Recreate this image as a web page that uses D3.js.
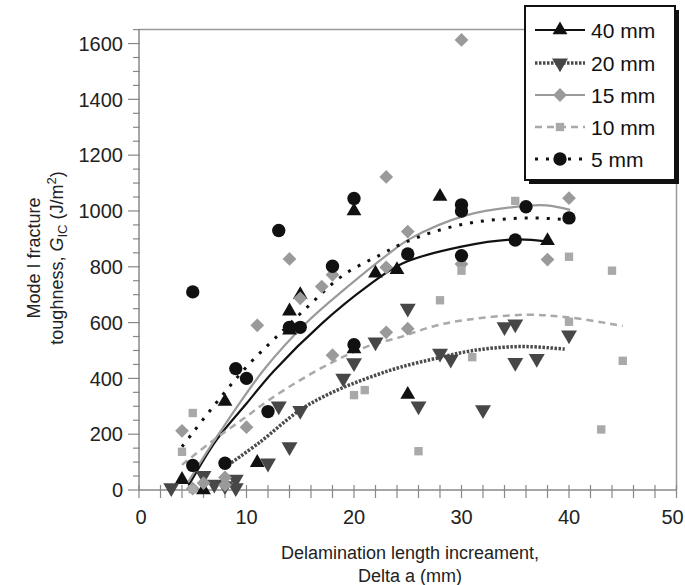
<!DOCTYPE html>
<html>
<head>
<meta charset="utf-8">
<script src="https://cdn.jsdelivr.net/npm/d3@7"></script>
<style>
  body { margin: 0; background: #fff; }
  svg { font-family: "Liberation Sans", Arial, sans-serif; }
</style>
</head>
<body>
<div id="vis"></div>
<script>
// size of the frame
const FRAME_WIDTH = 685;
const FRAME_HEIGHT = 585;

// margins round the plot area
const MARGINS = {left: 139, right: 8.5, top: 29.6, bottom: 95};

const VIS_WIDTH = FRAME_WIDTH - MARGINS.left - MARGINS.right;
const VIS_HEIGHT = FRAME_HEIGHT - MARGINS.top - MARGINS.bottom;

// series names (legend order)
const SERIES_NAMES = ["40 mm", "20 mm", "15 mm", "10 mm", "5 mm"];

// measured points [delta a (mm), G_IC (J/m2)]
const PTS_40 = [[4, 37], [6, 0], [8, 317], [11, 98], [14, 573], [14, 641], [15, 700],
  [20, 1000], [20, 505], [22, 777], [24, 789], [25, 342], [28, 1052], [38, 893]];

const PTS_20 = [[3, 8], [6, 52], [7, 20], [8, 15], [9, 38], [9, 8], [12, 96], [13, 301],
  [14, 155], [15, 285], [19, 400], [20, 456], [22, 530], [25, 651], [26, 301], [28, 490],
  [29, 468], [32, 287], [34, 585], [35, 595], [35, 457], [37, 471], [40, 555]];

const PTS_15 = [[4, 212], [5, 5], [6, 25], [8, 45], [8, 18], [10, 225], [11, 590], [14, 828],
  [15, 687], [17, 729], [18, 771], [18, 483], [23, 1122], [23, 798], [23, 565], [25, 926],
  [25, 578], [30, 1613], [30, 810], [38, 826], [40, 1046]];

const PTS_10 = [[4, 137], [5, 3], [5, 276], [20, 340], [21, 358], [26, 139], [28, 680],
  [30, 786], [31, 476], [35, 1036], [40, 836], [40, 603], [43, 217], [44, 786], [45, 463]];

const PTS_5 = [[5, 88], [8, 96], [5, 710], [9, 435], [10, 400], [12, 281], [13, 930],
  [14, 583], [15, 583], [18, 802], [20, 1045], [20, 521], [25, 846], [30, 1022], [30, 1000],
  [30, 840], [35, 896], [36, 1015], [40, 975]];

// trend curves
const FIT_40 = [[4.6, 15], [7.2, 179], [10, 310], [12.5, 425], [17.1, 600], [21.2, 729],
  [24.5, 812], [30, 872], [35, 898], [38, 890]];
const FIT_20 = [[8.3, 90], [11.2, 170], [15, 287], [18.1, 352], [21.2, 400], [24.3, 440],
  [28, 475], [30.5, 496], [33, 509], [36, 514], [39.6, 505]];
const FIT_15 = [[4.6, 30], [7.4, 200], [11.6, 430], [15.6, 600], [19.3, 725], [23, 840],
  [25.2, 900], [30.5, 985], [35, 1015], [37.9, 1020], [40.1, 1004]];
const FIT_10 = [[4, 90], [6.8, 175], [9.7, 255], [12, 320], [15, 394], [18.1, 460],
  [21.2, 514], [24.3, 548], [27.5, 588], [30.5, 610], [36, 628], [40.1, 618], [45, 588]];
const FIT_5 = [[4, 155], [5, 205], [6.6, 284], [8.4, 370], [10.3, 454], [12.5, 538],
  [15.7, 657], [19, 770], [22.4, 842], [24.6, 885], [27.4, 925], [30.5, 955], [33.6, 970],
  [36.7, 975], [40, 968]];

// axis ticks
const X_TICKS = [0, 10, 20, 30, 40, 50];
const Y_TICKS = [0, 200, 400, 600, 800, 1000, 1200, 1400, 1600];

// styles for each series
const STYLES = [
  {pts: PTS_40, fit: FIT_40, sym: d3.symbolTriangle, rot: 0, size: 95, fill: "#111",
   stroke: "#111", width: 2.2, dash: null},
  {pts: PTS_20, fit: FIT_20, sym: d3.symbolTriangle, rot: 180, size: 110, fill: "#474747",
   stroke: "#4a4a4a", width: 3.5, dash: "2.5,1.5"},
  {pts: PTS_15, fit: FIT_15, sym: d3.symbolSquare, rot: 45, size: 95, fill: "#9a9a9a",
   stroke: "#9a9a9a", width: 2.2, dash: null},
  {pts: PTS_10, fit: FIT_10, sym: d3.symbolSquare, rot: 0, size: 70, fill: "#a9a9a9",
   stroke: "#a9a9a9", width: 2.5, dash: "7,5"},
  {pts: PTS_5, fit: FIT_5, sym: d3.symbolCircle, rot: 0, size: 140, fill: "#111",
   stroke: "#111", width: 3, dash: "3,8"}
];

const FRAME = d3.select("#vis")
  .append("svg")
    .attr("width", FRAME_WIDTH)
    .attr("height", FRAME_HEIGHT);

const X_SCALE = d3.scaleLinear().domain([0, 50]).range([0, VIS_WIDTH]);
const Y_SCALE = d3.scaleLinear().domain([0, 1650]).range([VIS_HEIGHT, 0]);

const PLOT = FRAME.append("g")
  .attr("transform", "translate(" + MARGINS.left + "," + MARGINS.top + ")");

// grey top and right borders
PLOT.append("path")
  .attr("d", "M0,0H" + VIS_WIDTH + "V" + VIS_HEIGHT)
  .attr("fill", "none")
  .attr("stroke", "#999")
  .attr("stroke-width", 1.5);

// y axis with minor ticks every 50
const Y_AXIS = PLOT.append("g");
Y_AXIS.append("line")
  .attr("x1", 0).attr("x2", 0).attr("y1", 0).attr("y2", VIS_HEIGHT)
  .attr("stroke", "#888").attr("stroke-width", 1.5);
Y_AXIS.selectAll(".minor")
  .data(d3.range(0, 1651, 50))
  .enter()
  .append("line")
    .attr("x1", (d) => (d % 200 === 0 ? -11 : -6))
    .attr("x2", 1)
    .attr("y1", (d) => Y_SCALE(d))
    .attr("y2", (d) => Y_SCALE(d))
    .attr("stroke", "#888")
    .attr("stroke-width", 1.2);
Y_AXIS.selectAll("text")
  .data(Y_TICKS)
  .enter()
  .append("text")
    .attr("x", -16)
    .attr("y", (d) => Y_SCALE(d))
    .attr("dy", "0.36em")
    .attr("text-anchor", "end")
    .attr("font-size", 20)
    .attr("fill", "#222")
    .text((d) => d);

// x axis with minor ticks every 2
const X_AXIS = PLOT.append("g").attr("transform", "translate(0," + VIS_HEIGHT + ")");
X_AXIS.append("line")
  .attr("x1", 0).attr("x2", VIS_WIDTH)
  .attr("stroke", "#888").attr("stroke-width", 1.5);
X_AXIS.selectAll(".minor")
  .data(d3.range(0, 51, 2))
  .enter()
  .append("line")
    .attr("x1", (d) => X_SCALE(d))
    .attr("x2", (d) => X_SCALE(d))
    .attr("y1", -5)
    .attr("y2", 8)
    .attr("stroke", "#888")
    .attr("stroke-width", 1.2);
X_AXIS.selectAll("text")
  .data(X_TICKS)
  .enter()
  .append("text")
    .attr("x", (d) => X_SCALE(d) + (d === 0 ? 2 : d === 50 ? -4 : 0))
    .attr("y", 34)
    .attr("text-anchor", "middle")
    .attr("font-size", 20)
    .attr("fill", "#222")
    .text((d) => d);

// trend curves
const LINE = d3.line()
  .x((d) => X_SCALE(d[0]))
  .y((d) => Y_SCALE(d[1]))
  .curve(d3.curveCatmullRom);

STYLES.forEach((s) => {
  PLOT.append("path")
    .datum(s.fit)
    .attr("d", LINE)
    .attr("fill", "none")
    .attr("stroke", s.stroke)
    .attr("stroke-width", s.width)
    .attr("stroke-dasharray", s.dash);
});

// markers
STYLES.forEach((s) => {
  PLOT.selectAll(null)
    .data(s.pts)
    .enter()
    .append("path")
      .attr("d", d3.symbol().type(s.sym).size(s.size))
      .attr("transform", (d) => "translate(" + X_SCALE(d[0]) + "," + Y_SCALE(d[1]) +
        ") rotate(" + s.rot + ")")
      .attr("fill", s.fill);
});

// axis titles
FRAME.append("text")
  .attr("x", 410).attr("y", 559)
  .attr("text-anchor", "middle")
  .attr("font-size", 18)
  .attr("fill", "#222")
  .text("Delamination length increament,");
FRAME.append("text")
  .attr("x", 410).attr("y", 582)
  .attr("text-anchor", "middle")
  .attr("font-size", 18)
  .attr("fill", "#222")
  .text("Delta a (mm)");

const Y_TITLE = FRAME.append("text")
  .attr("transform", "translate(40,258) rotate(-90)")
  .attr("text-anchor", "middle")
  .attr("font-size", 18)
  .attr("fill", "#222");
Y_TITLE.append("tspan").attr("x", 0).attr("y", 0).text("Mode I fracture");
const T2 = Y_TITLE.append("tspan").attr("x", 0).attr("y", 23);
T2.append("tspan").text("toughness, ");
T2.append("tspan").attr("font-style", "italic").text("G");
T2.append("tspan").attr("font-size", 13).attr("dy", 4).text("IC");
T2.append("tspan").attr("dy", -4).text(" (J/m");
T2.append("tspan").attr("font-size", 13).attr("dy", -7).text("2");
T2.append("tspan").attr("dy", 7).text(")");

// legend box with a black shadow
const LEG = FRAME.append("g").attr("transform", "translate(525,6)");
LEG.append("rect")
  .attr("x", 4).attr("y", 4).attr("width", 150).attr("height", 174)
  .attr("fill", "#111");
LEG.append("rect")
  .attr("x", 0).attr("y", 0).attr("width", 150).attr("height", 174)
  .attr("fill", "#fff").attr("stroke", "#111").attr("stroke-width", 2);

const LEG_ROWS = [24, 57, 89, 121, 153];
STYLES.forEach((s, i) => {
  const row = LEG.append("g").attr("transform", "translate(0," + LEG_ROWS[i] + ")");
  row.append("line")
    .attr("x1", 10).attr("x2", 60)
    .attr("stroke", s.stroke)
    .attr("stroke-width", s.width)
    .attr("stroke-dasharray", s.dash);
  row.append("path")
    .attr("d", d3.symbol().type(s.sym).size(s.size))
    .attr("transform", "translate(35,0) rotate(" + s.rot + ")")
    .attr("fill", s.fill);
  row.append("text")
    .attr("x", 66).attr("dy", "0.36em")
    .attr("font-size", 21)
    .attr("fill", "#111")
    .text(SERIES_NAMES[i]);
});
</script>
</body>
</html>
